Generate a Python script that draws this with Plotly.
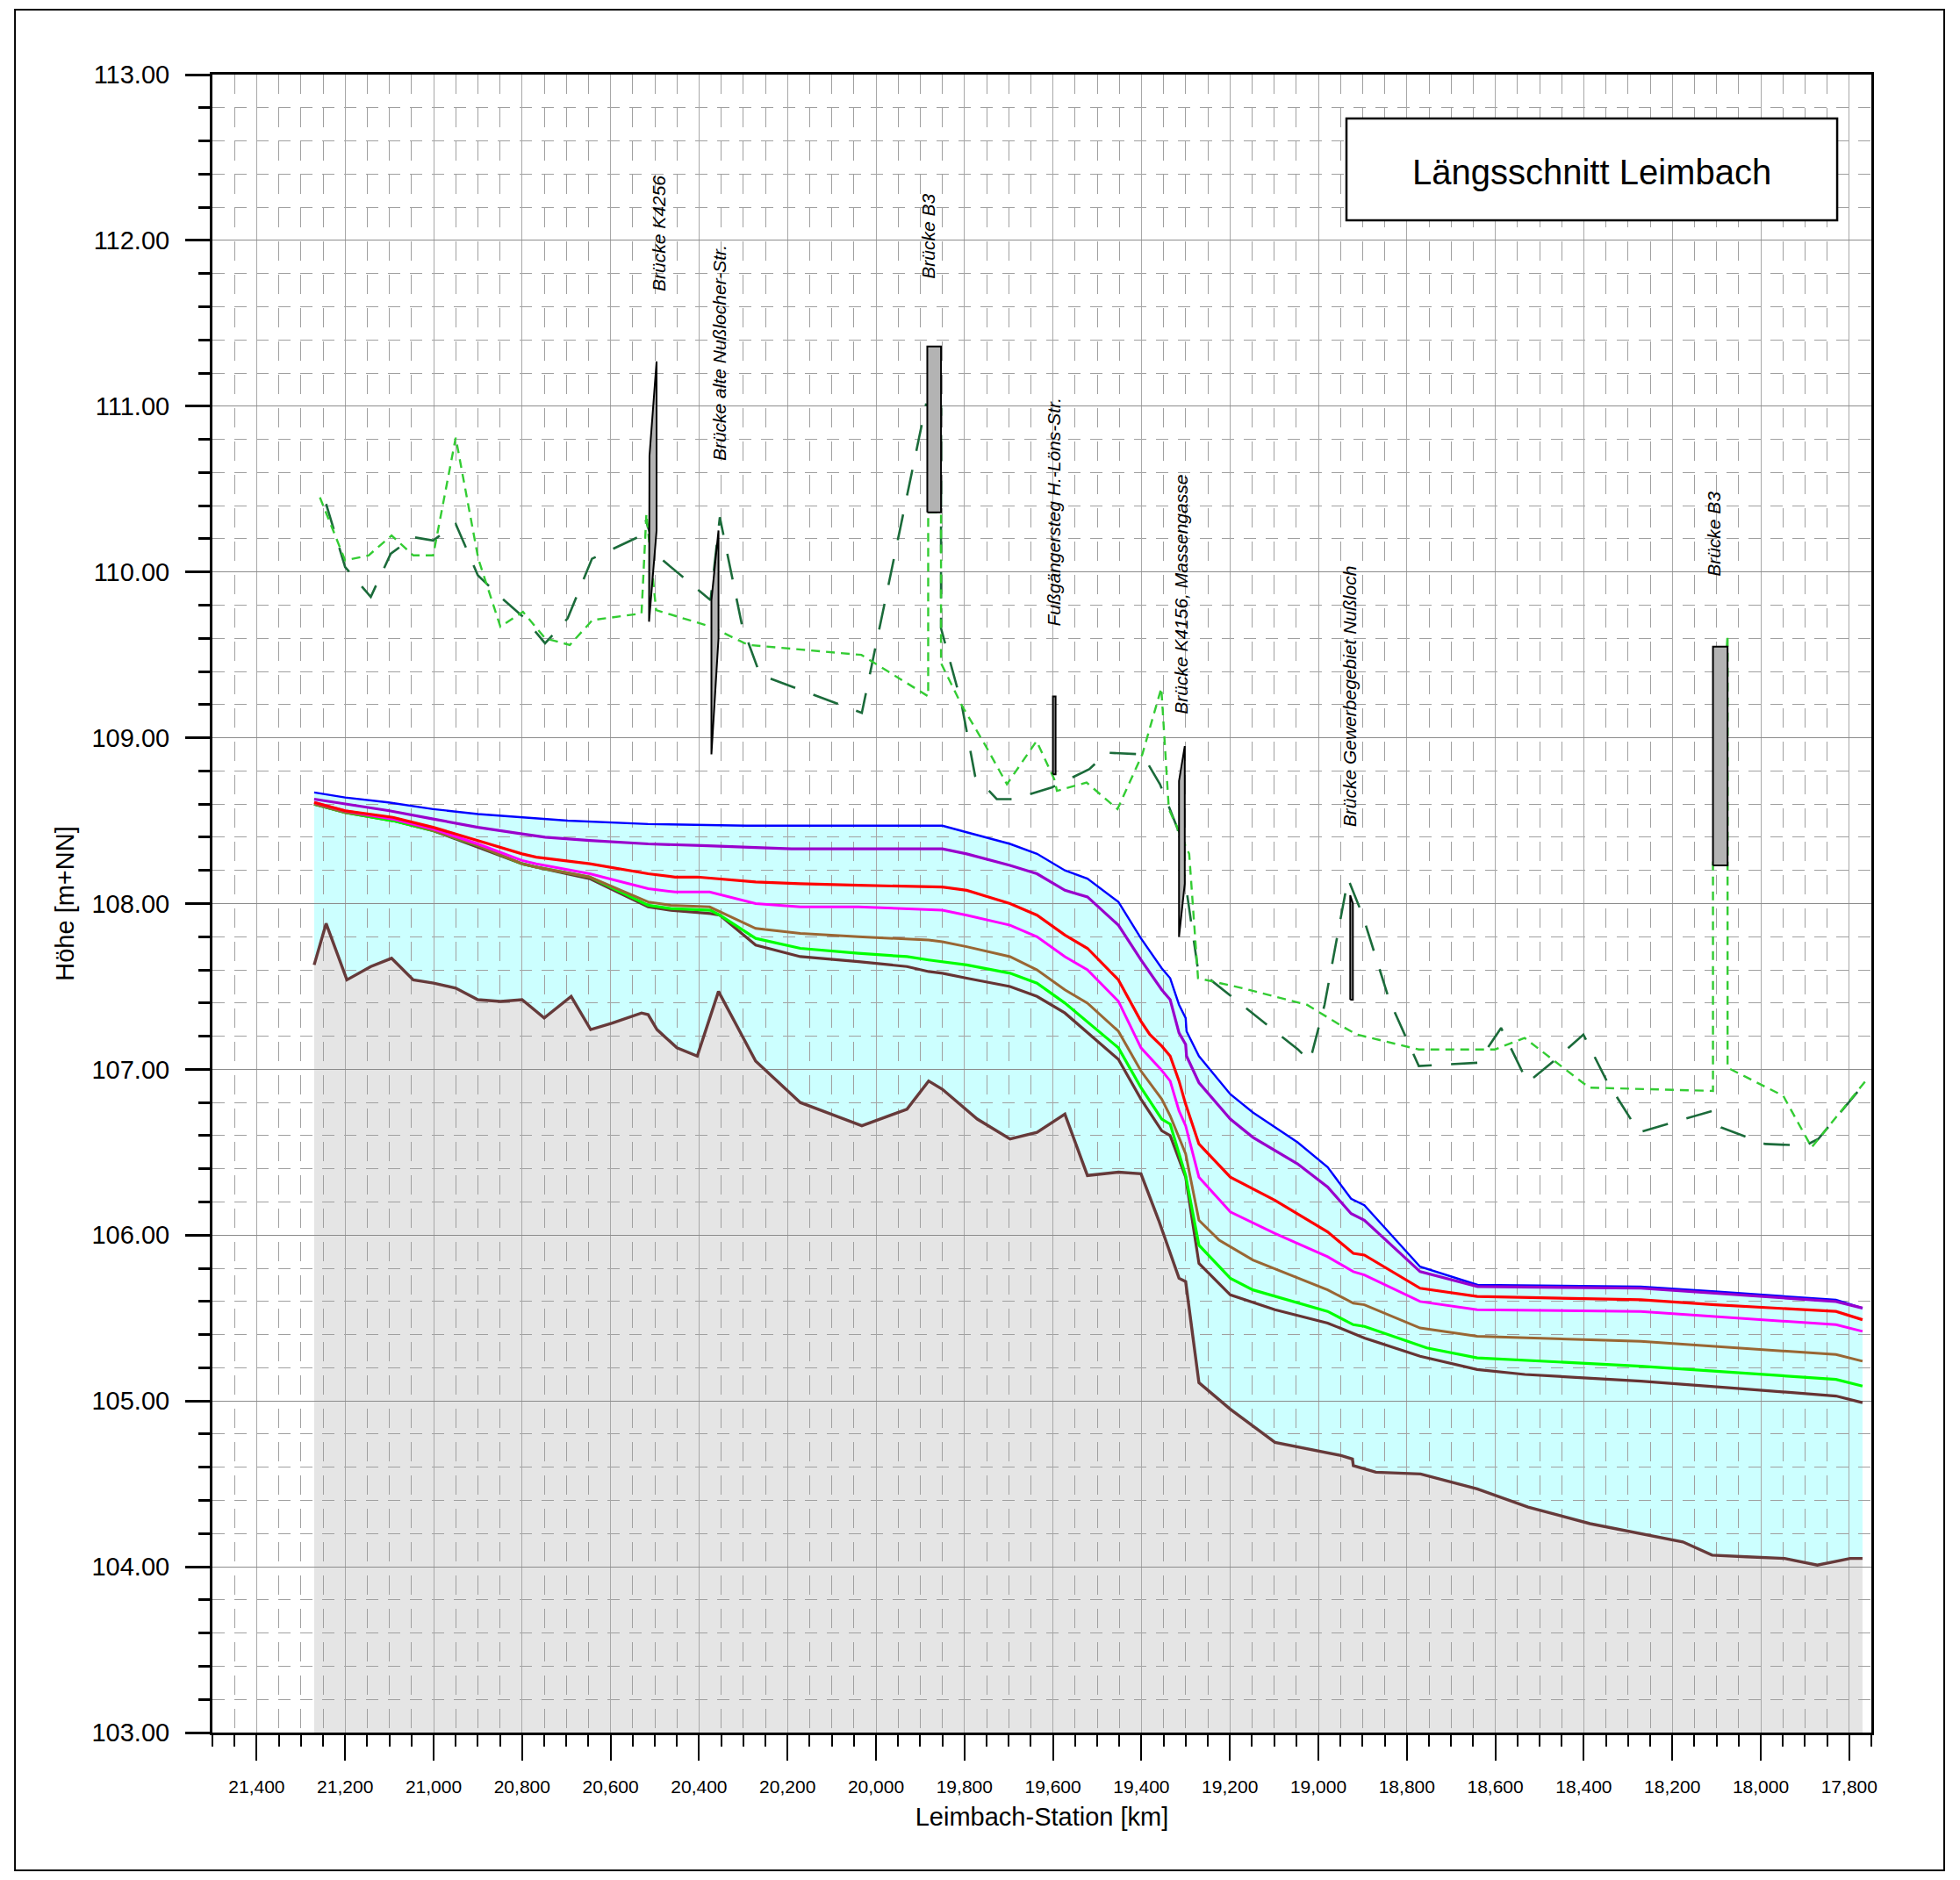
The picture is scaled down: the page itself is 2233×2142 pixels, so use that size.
import plotly.graph_objects as go

# ---------------- data ----------------
GROUND_STA = [21270, 21243, 21196, 21142, 21095, 21046, 21000, 20950, 20900, 20849, 20800, 20750, 20689, 20645,
              20596, 20530, 20515, 20495, 20450, 20404, 20356, 20272, 20171, 20032, 19930, 19881, 19850, 19771,
              19697, 19636, 19573, 19522, 19452, 19401, 19361, 19315, 19300, 19270, 19199, 19098, 18947, 18932,
              18923, 18921, 18870, 18769, 18641, 18526, 18386, 18176, 18110, 18032, 17946, 17872, 17798, 17770]
GROUND_ELEV = [107.63, 107.88, 107.54, 107.62, 107.67, 107.54, 107.52, 107.49, 107.42, 107.41, 107.42, 107.31,
               107.44, 107.24, 107.28, 107.34, 107.33, 107.24, 107.13, 107.08, 107.47, 107.05, 106.80, 106.66,
               106.76, 106.93, 106.88, 106.70, 106.58, 106.62, 106.73, 106.36, 106.38, 106.37, 106.09, 105.74,
               105.72, 105.11, 104.95, 104.75, 104.67, 104.66, 104.65, 104.61, 104.57, 104.56, 104.47, 104.36,
               104.26, 104.15, 104.07, 104.06, 104.05, 104.01, 104.05, 104.05]

BLUE_STA = [21270, 21200, 21102, 21001, 20900, 20800, 20697, 20515, 20293, 20090, 19850, 19795, 19697, 19636,
            19573, 19522, 19452, 19401, 19354, 19335, 19315, 19300, 19298, 19270, 19199, 19148, 19047, 18979,
            18926, 18896, 18770, 18640, 18271, 18102, 17830, 17770]
BLUE_ELEV = [108.67, 108.64, 108.61, 108.57, 108.54, 108.52, 108.50, 108.48, 108.47, 108.47, 108.47, 108.43,
             108.36, 108.30, 108.20, 108.15, 108.01, 107.79, 107.61, 107.55, 107.39, 107.31, 107.23, 107.08,
             106.85, 106.74, 106.56, 106.41, 106.22, 106.18, 105.81, 105.70, 105.69, 105.66, 105.61, 105.56]

PURPLE_STA = [21270, 21200, 21100, 21001, 20900, 20800, 20748, 20647, 20515, 20394, 20191, 19850, 19795, 19697,
              19636, 19573, 19522, 19452, 19401, 19354, 19335, 19315, 19300, 19298, 19270, 19199, 19148, 19047,
              18979, 18926, 18896, 18770, 18640, 18271, 18102, 17830, 17770]
PURPLE_ELEV = [108.63, 108.60, 108.56, 108.51, 108.46, 108.42, 108.40, 108.38, 108.36, 108.35, 108.33, 108.33,
               108.30, 108.23, 108.18, 108.08, 108.04, 107.87, 107.66, 107.48, 107.42, 107.22, 107.15, 107.08,
               106.92, 106.70, 106.59, 106.43, 106.29, 106.13, 106.09, 105.78, 105.69, 105.68, 105.65, 105.60,
               105.56]

RED_STA = [21270, 21200, 21092, 21001, 20900, 20800, 20768, 20647, 20515, 20454, 20404, 20353, 20272, 20171,
           20040, 19850, 19795, 19697, 19636, 19573, 19522, 19452, 19401, 19381, 19354, 19335, 19315, 19300,
           19270, 19199, 19098, 18979, 18921, 18896, 18770, 18641, 18271, 18102, 17830, 17770]
RED_ELEV = [108.61, 108.56, 108.52, 108.46, 108.38, 108.30, 108.28, 108.24, 108.18, 108.16, 108.16, 108.15,
            108.13, 108.12, 108.11, 108.10, 108.08, 108.00, 107.93, 107.81, 107.73, 107.54, 107.29, 107.21,
            107.14, 107.08, 106.93, 106.79, 106.55, 106.35, 106.21, 106.02, 105.89, 105.88, 105.68, 105.63,
            105.61, 105.58, 105.54, 105.49]

MAGENTA_STA = [21270, 21200, 21092, 21001, 20900, 20800, 20768, 20647, 20515, 20454, 20376, 20272, 20171, 20040,
               19850, 19795, 19697, 19636, 19573, 19522, 19452, 19401, 19356, 19335, 19315, 19300, 19270, 19199,
               19098, 18979, 18921, 18896, 18770, 18641, 18271, 18102, 17830, 17770]
MAGENTA_ELEV = [108.61, 108.56, 108.51, 108.45, 108.36, 108.26, 108.24, 108.18, 108.09, 108.07, 108.07, 108.00,
                107.98, 107.98, 107.96, 107.93, 107.87, 107.80, 107.68, 107.60, 107.41, 107.13, 107.00, 106.93,
                106.75, 106.66, 106.35, 106.14, 106.01, 105.87, 105.78, 105.76, 105.60, 105.55, 105.54, 105.51,
                105.46, 105.42]

OCHRE_STA = [21270, 21200, 21092, 21001, 20900, 20800, 20768, 20647, 20515, 20464, 20376, 20272, 20171, 20040,
             19881, 19850, 19795, 19697, 19636, 19573, 19522, 19452, 19401, 19354, 19335, 19300, 19270, 19224,
             19148, 18979, 18921, 18896, 18770, 18641, 18271, 18102, 17830, 17770]
OCHRE_ELEV = [108.60, 108.55, 108.51, 108.44, 108.35, 108.24, 108.22, 108.16, 108.01, 107.99, 107.98, 107.85,
              107.82, 107.80, 107.78, 107.77, 107.74, 107.68, 107.60, 107.48, 107.40, 107.23, 106.99, 106.82,
              106.72, 106.49, 106.09, 105.97, 105.85, 105.67, 105.59, 105.58, 105.44, 105.39, 105.36, 105.33,
              105.28, 105.24]

GREEN_STA = [21270, 21200, 21092, 21001, 20900, 20800, 20768, 20647, 20515, 20464, 20374, 20353, 20272, 20171,
             20040, 19930, 19881, 19850, 19795, 19697, 19636, 19573, 19452, 19401, 19354, 19335, 19300, 19270,
             19199, 19148, 19047, 18979, 18921, 18896, 18755, 18641, 18271, 18102, 17830, 17770]
GREEN_ELEV = [108.60, 108.55, 108.50, 108.44, 108.35, 108.24, 108.22, 108.16, 107.99, 107.97, 107.96, 107.93,
              107.79, 107.73, 107.70, 107.68, 107.66, 107.65, 107.63, 107.58, 107.52, 107.40, 107.13, 106.89,
              106.70, 106.67, 106.36, 105.94, 105.74, 105.67, 105.59, 105.54, 105.46, 105.45, 105.32, 105.26,
              105.21, 105.18, 105.13, 105.09]

LOW_STA = [21270, 21200, 21092, 21001, 20900, 20800, 20768, 20647, 20515, 20464, 20374, 20353, 20272, 20171,
           20040, 19930, 19881, 19850, 19795, 19697, 19636, 19573, 19452, 19401, 19354, 19335, 19300, 19270,
           19199, 19098, 18979, 18896, 18770, 18641, 18533, 18271, 18073, 17830, 17770]
LOW_ELEV = [108.60, 108.55, 108.50, 108.44, 108.34, 108.24, 108.22, 108.15, 107.98, 107.96, 107.94, 107.93,
            107.75, 107.68, 107.65, 107.62, 107.59, 107.58, 107.55, 107.50, 107.44, 107.34, 107.06, 106.82,
            106.63, 106.60, 106.35, 105.83, 105.64, 105.55, 105.47, 105.38, 105.27, 105.19, 105.16, 105.12,
            105.08, 105.03, 104.99]

BANK_LIGHT_STA = [21257, 21200, 21147, 21095, 21046, 21001, 20950, 20899, 20849, 20798, 20748, 20692, 20641,
                  20530, 20519, 20497, 20373, 20289, 20033, 19882, 19882, 19853, 19853, 19807, 19754, 19704,
                  19637, 19597, 19591, 19524, 19454, 19398, 19355, 19338, 19292, 19272, 19172, 19026, 18940,
                  18913, 18773, 18601, 18534, 18388, 18108, 18108, 18075, 18075, 17949, 17885, 17763]
BANK_LIGHT_ELEV = [110.45, 110.07, 110.10, 110.22, 110.10, 110.10, 110.81, 110.08, 109.67, 109.76, 109.60,
                   109.56, 109.71, 109.75, 110.35, 109.77, 109.67, 109.56, 109.50, 109.25, 110.36, 110.36,
                   109.45, 109.20, 108.96, 108.72, 108.98, 108.75, 108.68, 108.73, 108.57, 108.90, 109.30,
                   108.57, 108.30, 107.55, 107.49, 107.39, 107.25, 107.21, 107.12, 107.12, 107.19, 106.89,
                   106.87, 108.23, 109.62, 107.01, 106.84, 106.53, 106.93]

BANK_DARK_STA = [21243, 21200, 21142, 21097, 21046, 21001, 20950, 20900, 20849, 20798, 20748, 20697, 20642,
                 20530, 20520, 20495, 20374, 20353, 20303, 20262, 20032, 19887, 19853, 19853, 19807, 19776,
                 19727, 19688, 19603, 19518, 19478, 19398, 19358, 19318, 19272, 19046, 19019, 18986, 18933,
                 18900, 18840, 18773, 18640, 18587, 18527, 18468, 18401, 18348, 18275, 18109, 18090, 17990,
                 17900, 17870, 17770]
BANK_DARK_ELEV = [110.41, 110.03, 109.85, 110.11, 110.21, 110.19, 110.29, 109.98, 109.85, 109.73, 109.57,
                  109.72, 110.08, 110.22, 110.31, 110.10, 109.83, 110.33, 109.68, 109.38, 109.15, 111.01,
                  111.00, 109.66, 109.21, 108.77, 108.63, 108.63, 108.70, 108.81, 108.91, 108.90, 108.72,
                  108.45, 107.60, 107.12, 107.05, 107.39, 108.15, 107.93, 107.42, 107.02, 107.04, 107.25,
                  106.92, 107.05, 107.21, 106.93, 106.62, 106.75, 106.65, 106.55, 106.54, 106.58, 106.90]

BRIDGE_NAMES = ["Brücke K4256", "Brücke alte Nußlocher-Str.", "Brücke B3", "Fußgängersteg H.-Löns-Str.",
                "Brücke K4156, Massengasse", "Brücke Gewerbegebiet Nußloch", "Brücke B3"]
BRIDGE_STA = [[20513, 20512, 20496, 20496, 20513],
              [20372, 20372, 20356, 20356, 20372],
              [19884, 19884, 19853, 19853, 19884],
              [19600, 19600, 19594, 19594, 19600],
              [19315, 19315, 19302, 19302, 19315],
              [18928, 18928, 18922, 18922, 18928],
              [18108, 18108, 18075, 18075, 18108]]
BRIDGE_ELEV = [[109.70, 110.70, 111.27, 110.25, 109.70],
               [108.90, 109.83, 110.25, 109.60, 108.90],
               [110.36, 111.36, 111.36, 110.36, 110.36],
               [108.78, 109.25, 109.25, 108.78, 108.78],
               [107.80, 108.74, 108.95, 108.12, 107.80],
               [107.42, 108.05, 108.00, 107.42, 107.42],
               [108.23, 109.55, 109.55, 108.23, 108.23]]
LABEL_STA = [20491, 20355, 19881, 19599, 19311, 18929, 18105]
LABEL_ELEV = [111.68, 110.66, 111.76, 109.66, 109.13, 108.45, 109.96]

TITLE = "Längsschnitt Leimbach"
X_TITLE = "Leimbach-Station [km]"
Y_TITLE = "Höhe [m+NN]"
X_RANGE = [21500, 17750]
Y_RANGE = [103, 113]

FONT = "Liberation Sans, Arial, sans-serif"


def poly_path(xs, ys):
    pts = [f"{x},{y}" for x, y in zip(xs, ys)]
    return "M " + " L ".join(pts) + " Z"


fig = go.Figure()

# fills (drawn as shapes below the grid so the grid stays visible on them)
gray_x = GROUND_STA + [GROUND_STA[-1], GROUND_STA[0]]
gray_y = GROUND_ELEV + [Y_RANGE[0], Y_RANGE[0]]
cyan_x = GROUND_STA + BLUE_STA[::-1]
cyan_y = GROUND_ELEV + BLUE_ELEV[::-1]
shapes = [
    dict(type="path", xref="x", yref="y", path=poly_path(gray_x, gray_y),
         fillcolor="#e5e5e5", line=dict(width=0), layer="below"),
    dict(type="path", xref="x", yref="y", path=poly_path(cyan_x, cyan_y),
         fillcolor="#ccffff", line=dict(width=0), layer="below"),
]

# bank lines
fig.add_trace(go.Scatter(x=BANK_DARK_STA, y=BANK_DARK_ELEV, mode="lines",
                         line=dict(color="#1b6b3a", width=2.6, dash="30px,22px"), hoverinfo="skip"))
fig.add_trace(go.Scatter(x=BANK_LIGHT_STA, y=BANK_LIGHT_ELEV, mode="lines",
                         line=dict(color="#33cc33", width=2.4, dash="10px,7px"), hoverinfo="skip"))

# water levels
water = [
    (LOW_STA, LOW_ELEV, "#663333", 3.2),
    (GREEN_STA, GREEN_ELEV, "#00ff00", 3.2),
    (OCHRE_STA, OCHRE_ELEV, "#996633", 3.0),
    (MAGENTA_STA, MAGENTA_ELEV, "#ff00ff", 3.0),
    (RED_STA, RED_ELEV, "#ff0000", 3.2),
    (BLUE_STA, BLUE_ELEV, "#0000ff", 2.4),
    (PURPLE_STA, PURPLE_ELEV, "#9900cc", 3.2),
]
for xs, ys, col, w in water:
    fig.add_trace(go.Scatter(x=xs, y=ys, mode="lines", line=dict(color=col, width=w), hoverinfo="skip"))

# ground
fig.add_trace(go.Scatter(x=GROUND_STA, y=GROUND_ELEV, mode="lines",
                         line=dict(color="#663a3a", width=3.4), hoverinfo="skip"))

# bridges
for bx, by in zip(BRIDGE_STA, BRIDGE_ELEV):
    fig.add_trace(go.Scatter(x=bx, y=by, mode="lines", fill="toself", fillcolor="#b3b3b3",
                             line=dict(color="black", width=2), hoverinfo="skip"))

annotations = []
for name, lx, ly in zip(BRIDGE_NAMES, LABEL_STA, LABEL_ELEV):
    annotations.append(dict(x=lx, y=ly, xref="x", yref="y", text=f"<i>{name}</i>", showarrow=False,
                            textangle=-90, xanchor="center", yanchor="bottom",
                            font=dict(family=FONT, size=21, color="black")))

# title box
shapes.append(dict(type="rect", xref="paper", yref="paper", x0=0.6836, x1=0.9794, y0=0.9121, y1=0.9735,
                   fillcolor="white", line=dict(color="black", width=2.5), layer="above"))
annotations.append(dict(x=0.8315, y=0.9415, xref="paper", yref="paper", text=TITLE, showarrow=False,
                        xanchor="center", yanchor="middle", font=dict(family=FONT, size=40, color="black")))
# outer frame
shapes.append(dict(type="rect", xref="paper", yref="paper", x0=-0.119, x1=1.0439, y0=-0.0831, y1=1.0392,
                   fillcolor="rgba(0,0,0,0)", line=dict(color="black", width=2), layer="above"))

fig.update_layout(
    width=2233, height=2142, autosize=False,
    margin=dict(l=242, r=101, t=85, b=168, pad=0),
    paper_bgcolor="white", plot_bgcolor="white",
    showlegend=False,
    shapes=shapes, annotations=annotations,
    font=dict(family=FONT, color="black"),
)

fig.update_xaxes(
    range=X_RANGE, tick0=17800, dtick=200, tickformat=",d",
    ticks="outside", ticklen=29, tickwidth=2, tickcolor="black",
    tickfont=dict(family=FONT, size=21), ticklabelstandoff=12,
    showline=True, linecolor="black", linewidth=3, mirror=True,
    showgrid=True, gridcolor="#a8a8a8", gridwidth=1.2, zeroline=False,
    minor=dict(dtick=50, tick0=17800, ticks="outside", ticklen=13, tickwidth=2, tickcolor="black",
               showgrid=True, gridcolor="#a0a0a0", gridwidth=1.3, griddash="22px,16px"),
    title=dict(text=X_TITLE, font=dict(family=FONT, size=29), standoff=14),
)
fig.update_yaxes(
    range=Y_RANGE, tick0=103, dtick=1, tickformat=".2f",
    ticks="outside", ticklen=28, tickwidth=3, tickcolor="black",
    tickfont=dict(family=FONT, size=29), ticklabelstandoff=12,
    showline=True, linecolor="black", linewidth=3, mirror=True,
    showgrid=True, gridcolor="#8c8c8c", gridwidth=1.2, zeroline=False,
    minor=dict(dtick=0.2, tick0=103, ticks="outside", ticklen=13, tickwidth=3, tickcolor="black",
               showgrid=True, gridcolor="#a0a0a0", gridwidth=1.3, griddash="14px,11px"),
    title=dict(text=Y_TITLE, font=dict(family=FONT, size=29), standoff=12),
)

fig.write_html("out.html")
